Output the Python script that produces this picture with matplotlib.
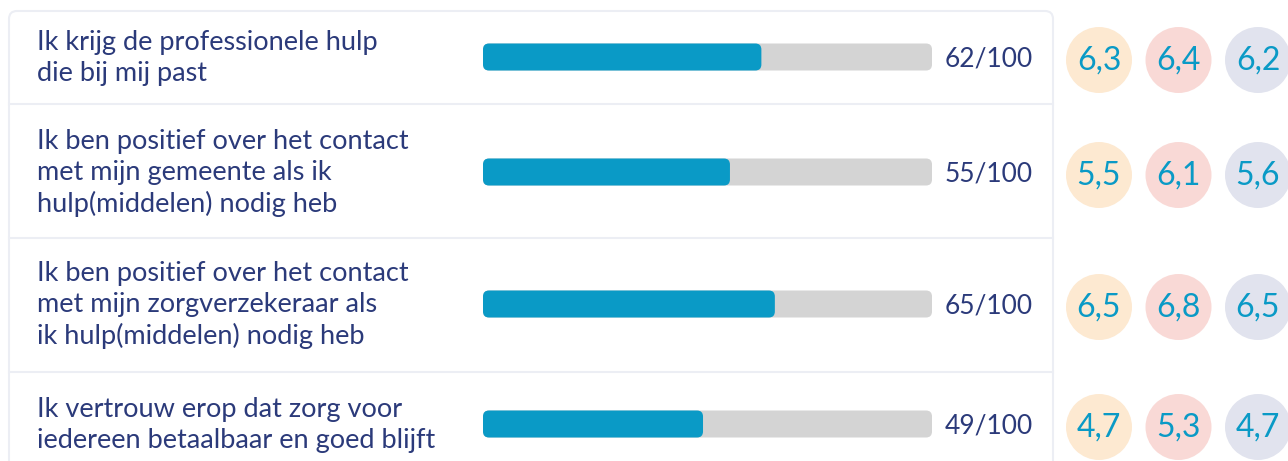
import matplotlib.pyplot as plt
from matplotlib.patches import FancyBboxPatch, Circle

labels = [
    "Ik krijg de professionele hulp\ndie bij mij past",
    "Ik ben positief over het contact\nmet mijn gemeente als ik\nhulp(middelen) nodig heb",
    "Ik ben positief over het contact\nmet mijn zorgverzekeraar als\nik hulp(middelen) nodig heb",
    "Ik vertrouw erop dat zorg voor\niedereen betaalbaar en goed blijft",
]
scores = [62, 55, 65, 49]
group_a = [6.3, 5.5, 6.5, 4.7]
group_b = [6.4, 6.1, 6.8, 5.3]
group_c = [6.2, 5.6, 6.5, 4.7]

navy = "#2b3a7a"
blue = "#0a9ac6"
track = "#d4d4d4"
circle_cols = ["#fde9d1", "#f9d9d6", "#e1e3ee"]

W, H = 1288, 461
fig = plt.figure(figsize=(W / 100, H / 100), dpi=100)
ax = fig.add_axes([0, 0, 1, 1])
ax.set_xlim(0, W)
ax.set_ylim(H, 0)
ax.axis("off")
plt.rcParams['font.family'] = ['Lato', 'DejaVu Sans']

# card and separators
ax.add_patch(FancyBboxPatch((9, 11), 1044, 480, boxstyle="round,pad=0,rounding_size=8",
                            fc="white", ec="#eceef4", lw=1.5))
row_y = [57, 172, 304, 424]
for y in [104, 238, 372]:
    ax.plot([9, 1053], [y, y], color="#eceef4", lw=1.5)

bx, bw, bh = 483, 449, 27
for i, lab in enumerate(labels):
    y = row_y[i]
    ax.text(37, y + 1, lab, fontsize=19.5, color=navy, va="center", ha="left",
            linespacing=1.3)
    ax.add_patch(FancyBboxPatch((bx, y - bh / 2), bw, bh,
                                boxstyle="round,pad=0,rounding_size=6", fc=track, ec="none"))
    ax.add_patch(FancyBboxPatch((bx, y - bh / 2), bw * scores[i] / 100, bh,
                                boxstyle="round,pad=0,rounding_size=6", fc=blue, ec="none"))
    ax.text(945, y + 2, f"{scores[i]}/100", fontsize=19, color=navy, va="center", ha="left")
    for j, vals in enumerate([group_a, group_b, group_c]):
        cx = 1099 + j * 79.5
        ax.add_patch(Circle((cx, y + 3), 33, fc=circle_cols[j], ec="none"))
        ax.text(cx, y + 4, f"{vals[i]:.1f}".replace(".", ","), fontsize=23,
                color=blue, ha="center", va="center")

fig.savefig("out.png", dpi=100)
